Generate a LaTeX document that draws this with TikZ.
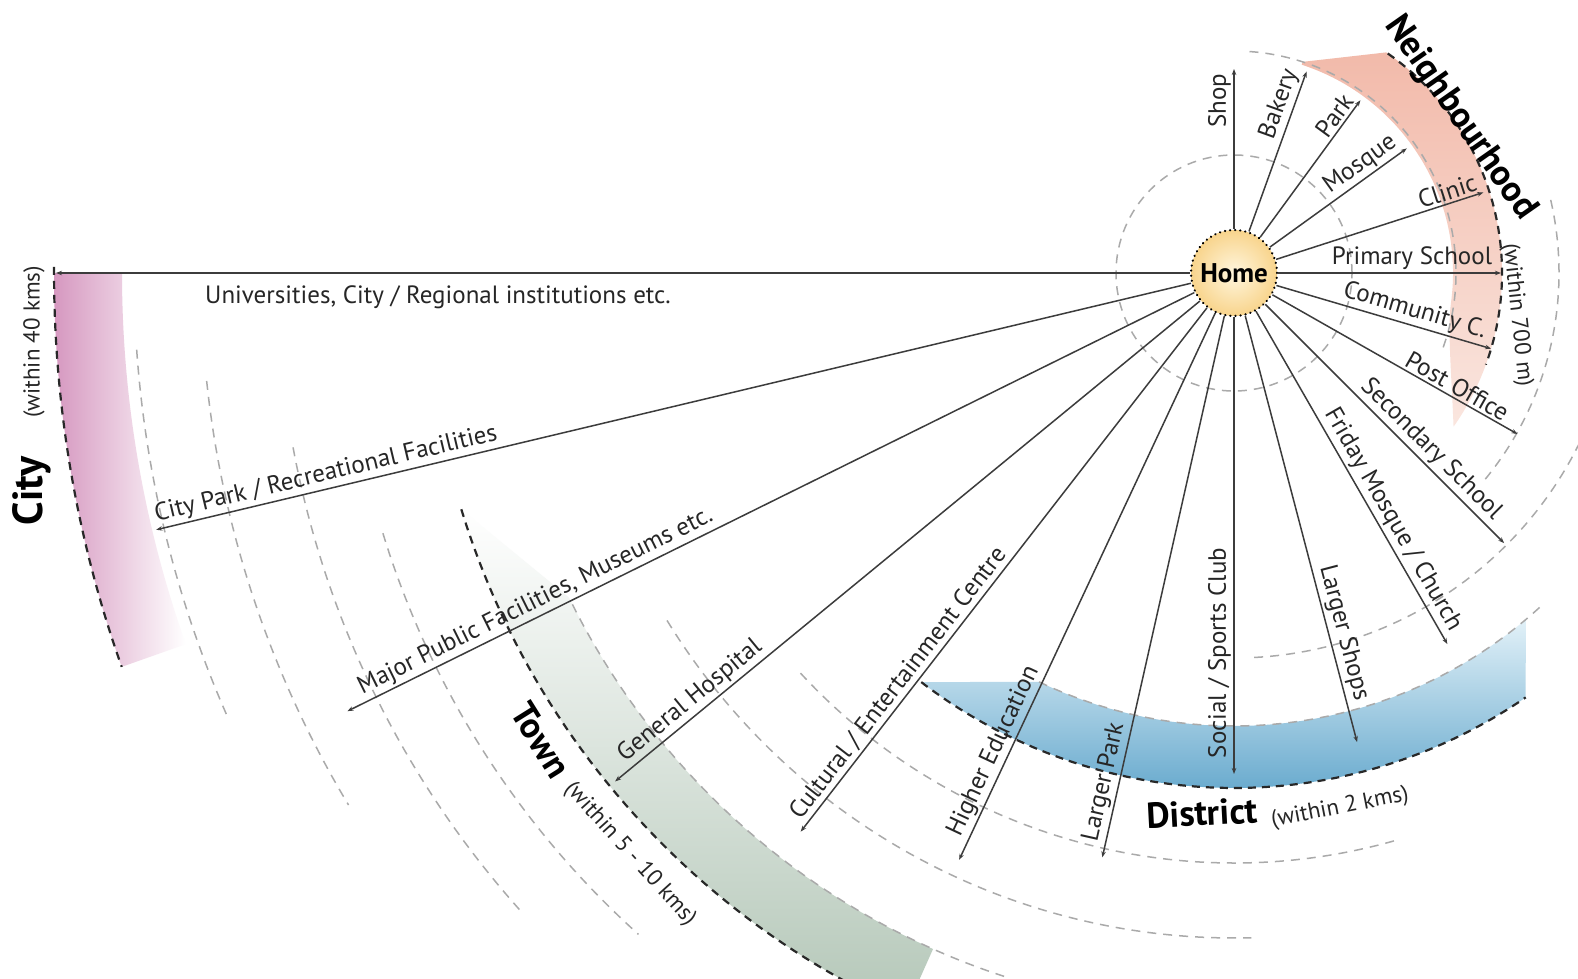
\documentclass[tikz,border=0pt]{standalone}
\usepackage{fontspec}
\setmainfont{PT Sans}
\usetikzlibrary{arrows.meta}
\definecolor{linec}{RGB}{60,60,60}
\definecolor{dashgray}{RGB}{170,170,170}
\definecolor{dashblack}{RGB}{40,40,40}
\definecolor{pinkA}{RGB}{242,186,170}
\definecolor{pinkB}{RGB}{250,230,223}
\definecolor{mauve}{RGB}{214,152,192}
\definecolor{greenB}{RGB}{180,199,184}
\definecolor{blueA}{RGB}{226,241,248}
\definecolor{blueB}{RGB}{82,157,198}
\definecolor{homeIn}{RGB}{255,246,222}
\definecolor{homeOut}{RGB}{248,212,140}
\tikzset{
  ray/.style={draw=linec, line width=1.5pt, -{Stealth[length=6pt,width=4.5pt]}},
  lbl/.style={font=\fontsize{25}{29}\selectfont, text=black!85, anchor=south, inner sep=3pt},
  gdash/.style={draw=dashgray, line width=1.5pt, dash pattern=on 9pt off 7pt},
  bdash/.style={draw=dashblack, line width=2.2pt, dash pattern=on 8pt off 6pt},
  bigl/.style={font=\bfseries\fontsize{36}{40}\selectfont, text=black},
  smalll/.style={font=\fontsize{23}{27}\selectfont, text=black!85},
  homec/.style={circle, minimum size=86pt, inner sep=0pt, shade, inner color=homeIn, outer color=homeOut,
    draw=black, line width=2.4pt, dash pattern=on 0.1pt off 5pt, line cap=round,
    font=\bfseries\fontsize{27}{30}\selectfont},
}
\begin{document}
\begin{tikzpicture}[x=1pt,y=1pt]
\useasboundingbox (0,0) rectangle (1578,978);
\clip (0,0) rectangle (1578,978);
\fill[white] (0,0) rectangle (1578,978);
\begin{scope}[shift={(1234,705)}]
  % ---- bands ----
  \shade[left color=mauve, right color=white]
    (180:1180) arc[start angle=180,end angle=199.5,radius=1180] -- (199.5:1112)
    arc[start angle=199.5,end angle=180,radius=1112] -- cycle;
  \shade[top color=white, bottom color=greenB]
    (197:808) arc[start angle=197,end angle=246,radius=808] -- (246:740)
    arc[start angle=246,end angle=206,radius=740] -- cycle;
  \shade[top color=blueA, bottom color=blueB]
    (232.6:515) arc[start angle=232.6,end angle=304.5,radius=515] -- (310.1:453)
    arc[start angle=310.1,end angle=244.5,radius=453] -- cycle;
  \shade[top color=pinkA, bottom color=pinkB]
    (72:222) -- (55.4:268) arc[start angle=55.4,end angle=-35,radius=268]
    .. controls (-25:240) and (-15:221) .. (-8:219)
    arc[start angle=-8,end angle=72,radius=219] -- cycle;
  % ---- dashed rings ----
  \draw[gdash] (184:1100) arc[start angle=184,end angle=204,radius=1100];
  \draw[gdash] (186:1033) arc[start angle=186,end angle=211,radius=1033];
  \draw[gdash] (190.5:957) arc[start angle=190.5,end angle=222,radius=957];
  \draw[gdash] (197:890) arc[start angle=197,end angle=228,radius=890];
  \draw[gdash] (206.6:740) arc[start angle=206.6,end angle=252,radius=740];
  \draw[gdash] (211.5:665) arc[start angle=211.5,end angle=271.5,radius=665];
  \draw[gdash] (222.7:590) arc[start angle=222.7,end angle=286,radius=590];
  \draw[gdash] (244.5:453) arc[start angle=244.5,end angle=313,radius=453];
  \draw[gdash] (273:385) arc[start angle=273,end angle=335,radius=385];
  \draw[gdash] (13:325) arc[start angle=13,end angle=-40,radius=325];
  \draw[gdash] (86:222) arc[start angle=86,end angle=-20,radius=222];
  \draw[gdash] (0,0) circle[radius=118];
  \draw[bdash] (179.7:1180) arc[start angle=179.7,end angle=199.5,radius=1180];
  \draw[bdash] (197:808) arc[start angle=197,end angle=246,radius=808];
  \draw[bdash] (232.6:515) arc[start angle=232.6,end angle=304.5,radius=515];
  \draw[bdash] (55:268) arc[start angle=55,end angle=-20,radius=268];
  % ---- home ----
  \node[homec] (home) at (0,0) {Home};
  % ---- ray end points ----
  \coordinate (eUni) at (180:1178);
  \coordinate (eCpark) at (193.4:1108);
  \coordinate (eMpf) at (206.3:989);
  \coordinate (eHosp) at (219.4:801);
  \coordinate (eCult) at (232.2:707);
  \coordinate (eHied) at (244.9:648);
  \coordinate (eLpark) at (257.3:599);
  \coordinate (eSocial) at (270:501);
  \coordinate (eLshops) at (284.7:485);
  \coordinate (eFriday) at (299.9:428);
  \coordinate (eSecond) at (315:382);
  \coordinate (ePost) at (330.4:326);
  \coordinate (eComm) at (343.6:268);
  \coordinate (ePrim) at (0:267);
  \coordinate (eClinic) at (17.9:262);
  \coordinate (eMosque) at (35.8:213);
  \coordinate (ePark) at (53.8:214);
  \coordinate (eBakery) at (70.2:214);
  \coordinate (eShop) at (90:204);
  \foreach \e in {eUni,eCpark,eMpf,eHosp,eCult,eHied,eLpark,eSocial,eLshops,eFriday,eSecond,ePost,eComm,ePrim,eClinic,eMosque,ePark,eBakery,eShop}
    \draw[ray] (home) -- (\e);
  % ---- ray labels ----
  \node[lbl, rotate=90] (tShop) at (90:172) {Shop};
  \node[lbl, rotate=70.2] (tBakery) at (70.2:174) {Bakery};
  \node[lbl, rotate=53.8] (tPark) at (53.8:186) {Park};
  \node[lbl, rotate=35.8] (tMosque) at (35.8:166) {Mosque};
  \node[lbl, rotate=17.9] (tClinic) at (17.9:228) {Clinic};
  \node[lbl, rotate=0] (tPrim) at (0:178) {Primary School};
  \node[lbl, rotate=-16.4] (tComm) at (343.6:184) {Community C.};
  \node[lbl, rotate=-29.6] (tPost) at (330.4:250) {Post Office};
  \node[lbl, rotate=-45] (tSecond) at (315:264) {Secondary School};
  \node[lbl, rotate=-60.1] (tFriday) at (299.9:293) {Friday Mosque / Church};
  \node[lbl, rotate=-75.3] (tLshops) at (284.7:376) {Larger Shops};
  \node[lbl, rotate=90] (tSocial) at (270:380) {Social / Sports Club};
  \node[lbl, rotate=77.3] (tLpark) at (257.3:525) {Larger Park};
  \node[lbl, rotate=64.9] (tHied) at (244.9:535) {Higher Education};
  \node[lbl, rotate=52.2] (tCult) at (232.2:530) {Cultural / Entertainment Centre};
  \node[lbl, rotate=39.4] (tHosp) at (219.4:692) {General Hospital};
  \node[lbl, rotate=26.3] (tMpf) at (206.3:772) {Major Public Facilities, Museums etc.};
  \node[lbl, rotate=13.4] (tCpark) at (193.4:930) {City Park / Recreational Facilities};
\end{scope}
\node[lbl, anchor=center] (tUni) at (438,681) {Universities, City / Regional institutions etc.};
% ---- zone labels ----
\node[bigl, rotate=-55] (tNb) at (1460,860) {Neighbourhood};
\node[smalll, rotate=-84] (tNbw) at (1517,663) {(within 700 m)};
\node[font=\bfseries\fontsize{42}{46}\selectfont, rotate=90] (tCity) at (32,487) {City};
\node[smalll, rotate=90] (tCityw) at (34,636) {(within 40 kms)};
\node[bigl, rotate=-58] (tTown) at (541,238) {Town};
\node[smalll, rotate=-48] (tTownw) at (630,124) {(within 5 - 10 kms)};
\node[bigl, rotate=3] (tDist) at (1202,165) {District};
\node[smalll, rotate=11] (tDistw) at (1340,170) {(within 2 kms)};
\end{tikzpicture}
\end{document}
